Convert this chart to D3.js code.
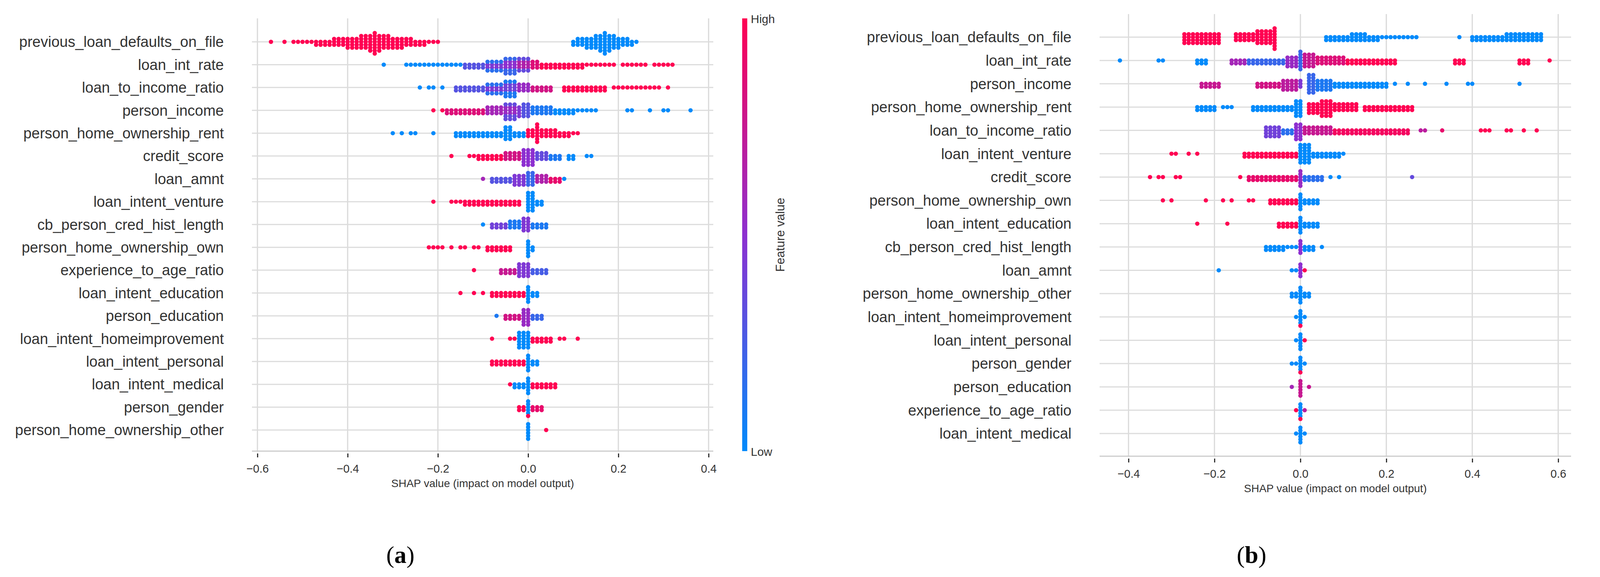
<!DOCTYPE html>
<html><head><meta charset="utf-8">
<script src="https://cdn.jsdelivr.net/npm/d3@7"></script>
<style>body{margin:0;background:#fff}svg{display:block}</style>
</head><body>
<svg id="c" width="4236" height="1476"></svg>
<script>
// Each run: [x from, x to, feature value (0 low .. 1 high), dots per 0.01 step]
const featuresA = ["previous_loan_defaults_on_file","loan_int_rate","loan_to_income_ratio","person_income","person_home_ownership_rent","credit_score","loan_amnt","loan_intent_venture","cb_person_cred_hist_length","person_home_ownership_own","experience_to_age_ratio","loan_intent_education","person_education","loan_intent_homeimprovement","loan_intent_personal","loan_intent_medical","person_gender","person_home_ownership_other"];
const runsA = [
 [[-0.57,-0.57,1,1],[-0.54,-0.54,1,1],[-0.52,-0.48,1,1],[-0.47,-0.44,1,2],[-0.43,-0.41,1,3],[-0.40,-0.38,1,4],[-0.37,-0.36,1,5],[-0.35,-0.35,1,6],[-0.34,-0.34,1,8],[-0.33,-0.33,1,6],[-0.32,-0.31,1,5],[-0.30,-0.28,1,4],[-0.27,-0.26,1,3],[-0.25,-0.23,1,2],[-0.22,-0.20,1,1],
  [0.10,0.10,0,2],[0.11,0.12,0,3],[0.13,0.14,0,4],[0.15,0.15,0,5],[0.16,0.16,0,6],[0.17,0.17,0,8],[0.18,0.18,0,6],[0.19,0.19,0,5],[0.20,0.20,0,4],[0.21,0.22,0,3],[0.23,0.23,0,2],[0.24,0.24,0,1]],
 [[-0.32,-0.32,0,1],[-0.27,-0.15,0,1],[-0.14,-0.10,0.3,2],[-0.09,-0.06,0.45,2],[-0.09,-0.06,0.15,2],[-0.05,-0.03,0.5,3],[-0.05,-0.03,0.2,3],[-0.02,0.0,0.65,3],[-0.02,0.0,0.35,2],[0.01,0.02,0.85,3],[0.03,0.12,1,2],[0.13,0.19,1,1],[0.21,0.26,1,1],[0.28,0.32,1,1]],
 [[-0.24,-0.24,0,1],[-0.22,-0.21,0,1],[-0.19,-0.19,0,1],[-0.16,-0.10,0.3,2],[-0.09,-0.06,0.45,2],[-0.09,-0.06,0.15,2],[-0.05,-0.03,0.4,3],[-0.05,-0.03,0.1,3],[-0.02,0.0,0.55,3],[0.01,0.05,0.8,2],[0.08,0.17,1,2],[0.19,0.29,1,1],[0.31,0.31,1,1]],
 [[-0.21,-0.21,1,1],[-0.19,-0.19,1,1],[-0.18,-0.10,0.85,2],[-0.09,-0.06,0.6,3],[-0.05,-0.03,0.55,3],[-0.05,-0.03,0.35,3],[-0.02,-0.02,0.45,4],[-0.01,0.0,0.3,5],[0.01,0.05,0.1,3],[0.06,0.10,0,2],[0.11,0.15,0,1],[0.22,0.23,0,1],[0.27,0.27,0,1],[0.30,0.31,0,1],[0.36,0.36,0,1]],
 [[-0.30,-0.30,0,1],[-0.28,-0.28,0,1],[-0.26,-0.25,0,1],[-0.21,-0.21,0,1],[-0.16,-0.06,0,2],[-0.05,-0.04,0,5],[-0.03,-0.01,0,2],[0.0,0.01,1,3],[0.02,0.02,1,7],[0.03,0.06,1,3],[0.07,0.09,1,2],[0.10,0.11,1,1]],
 [[-0.17,-0.17,1,1],[-0.13,-0.12,1,1],[-0.11,-0.06,1,2],[-0.05,-0.02,0.8,3],[-0.01,0.01,0.5,6],[0.02,0.04,0.35,3],[0.05,0.07,0.1,2],[0.09,0.10,0,2],[0.13,0.14,0,1]],
 [[-0.10,-0.10,0.6,1],[-0.08,-0.04,0.3,2],[-0.03,-0.01,0.45,4],[0.0,0.01,0.2,5],[0.02,0.04,0.65,3],[0.05,0.07,0.9,2],[0.08,0.08,0,1]],
 [[-0.21,-0.21,1,1],[-0.17,-0.15,1,1],[-0.14,-0.02,1,2],[0.0,0.01,0,7],[0.02,0.03,0,2]],
 [[-0.10,-0.10,0,1],[-0.08,-0.05,0.4,2],[-0.04,-0.02,0.1,3],[-0.01,0.0,0.45,5],[0.01,0.04,0.1,2]],
 [[-0.22,-0.21,1,1],[-0.20,-0.19,1,1],[-0.17,-0.17,1,1],[-0.15,-0.14,1,1],[-0.12,-0.11,1,1],[-0.09,-0.04,1,2],[0.0,0.0,0,6],[0.01,0.01,0,2]],
 [[-0.12,-0.12,1,1],[-0.06,-0.03,0.75,2],[-0.02,0.0,0.45,5],[0.01,0.04,0.25,2]],
 [[-0.15,-0.15,1,1],[-0.12,-0.12,1,1],[-0.10,-0.10,1,1],[-0.08,-0.01,1,2],[0.0,0.0,0,6],[0.01,0.02,0,2]],
 [[-0.07,-0.07,0.1,1],[-0.05,-0.02,0.8,2],[-0.01,0.0,0.55,6],[0.01,0.03,0.2,2]],
 [[-0.08,-0.08,1,1],[-0.04,-0.03,1,1],[-0.02,0.0,0,6],[0.01,0.05,1,2],[0.07,0.08,1,1],[0.11,0.11,1,1]],
 [[-0.08,-0.01,1,2],[0.0,0.0,0,6],[0.01,0.02,0,2]],
 [[-0.04,-0.04,1,1],[-0.03,-0.01,0,2],[0.0,0.0,0,6],[0.01,0.06,1,2]],
 [[-0.02,-0.01,1,2],[0.0,0.0,0,5],[0.0,0.0,1,1],[0.01,0.03,0.9,2]],
 [[0.0,0.0,0,6],[0.04,0.04,1,1]]
];
const ticksA = [-0.6,-0.4,-0.2,0.0,0.2,0.4];

const featuresB = ["previous_loan_defaults_on_file","loan_int_rate","person_income","person_home_ownership_rent","loan_to_income_ratio","loan_intent_venture","credit_score","person_home_ownership_own","loan_intent_education","cb_person_cred_hist_length","loan_amnt","person_home_ownership_other","loan_intent_homeimprovement","loan_intent_personal","person_gender","person_education","experience_to_age_ratio","loan_intent_medical"];
const runsB = [
 [[-0.27,-0.19,1,4],[-0.15,-0.11,1,3],[-0.10,-0.07,1,5],[-0.06,-0.06,1,8],
  [0.06,0.11,0,2],[0.12,0.15,0,3],[0.16,0.18,0,2],[0.19,0.27,0,1],[0.37,0.37,0,1],[0.40,0.47,0,2],[0.48,0.56,0,3]],
 [[-0.42,-0.42,0,1],[-0.33,-0.32,0,1],[-0.24,-0.22,0,2],[-0.16,-0.13,0.6,2],[-0.12,-0.04,0.2,2],[-0.03,-0.01,0.55,4],[0.0,0.0,0.2,7],[0.01,0.03,0.75,5],[0.04,0.10,0.85,3],[0.11,0.22,1,2],[0.36,0.38,1,2],[0.51,0.53,1,2],[0.58,0.58,1,1]],
 [[-0.23,-0.19,0.75,2],[-0.10,-0.05,0.8,2],[-0.04,-0.01,0.7,4],[0.0,0.0,0.45,3],[0.02,0.03,0.2,7],[0.04,0.07,0.1,4],[0.08,0.20,0,2],[0.22,0.22,0,1],[0.25,0.25,0,1],[0.29,0.29,0,1],[0.34,0.34,0,1],[0.39,0.40,0,1],[0.51,0.51,0,1]],
 [[-0.24,-0.20,0,2],[-0.18,-0.16,0,1],[-0.11,-0.02,0,2],[-0.01,0.0,0,6],[0.02,0.04,1,4],[0.05,0.07,1,6],[0.08,0.13,1,3],[0.15,0.26,1,2]],
 [[-0.08,-0.05,0.4,4],[-0.04,-0.02,0.15,2],[-0.01,0.0,0.5,6],[0.01,0.07,0.75,3],[0.08,0.25,0.95,2],[0.28,0.29,0.7,1],[0.33,0.33,0.9,1],[0.42,0.44,1,1],[0.48,0.49,1,1],[0.52,0.52,1,1],[0.55,0.55,1,1]],
 [[-0.30,-0.29,1,1],[-0.26,-0.26,1,1],[-0.24,-0.24,1,1],[-0.13,-0.01,1,2],[0.0,0.02,0,7],[0.03,0.09,0,2],[0.10,0.10,0,1]],
 [[-0.35,-0.35,1,1],[-0.33,-0.32,1,1],[-0.29,-0.28,1,1],[-0.14,-0.14,1,1],[-0.12,-0.01,0.9,2],[0.0,0.0,0.55,6],[0.01,0.05,0.15,2],[0.07,0.07,0,1],[0.09,0.09,0,1],[0.26,0.26,0.35,1]],
 [[-0.32,-0.32,1,1],[-0.30,-0.30,1,1],[-0.22,-0.22,1,1],[-0.18,-0.18,1,1],[-0.16,-0.16,1,1],[-0.12,-0.11,1,1],[-0.07,-0.01,1,2],[0.0,0.0,0,6],[0.01,0.04,0,2]],
 [[-0.24,-0.24,1,1],[-0.17,-0.17,1,1],[-0.05,-0.01,1,2],[0.0,0.0,0,6],[0.01,0.04,0,2]],
 [[-0.08,-0.04,0,2],[-0.03,-0.01,0,1],[0.0,0.0,0.5,5],[0.01,0.03,0,2],[0.05,0.05,0,1]],
 [[-0.19,-0.19,0,1],[-0.02,-0.01,0,1],[0.0,0.0,0.5,5],[0.01,0.01,1,1]],
 [[-0.02,-0.01,0,2],[0.0,0.0,0,6],[0.01,0.02,0,2]],
 [[-0.01,-0.01,0,1],[0.0,0.0,0,5],[0.0,0.0,1,1],[0.01,0.01,0,1]],
 [[-0.01,-0.01,0,1],[0.0,0.0,0,6],[0.01,0.01,1,1]],
 [[-0.02,-0.01,0,1],[0.0,0.0,0,5],[0.0,0.0,1,1],[0.01,0.01,0,1]],
 [[-0.02,-0.02,0.6,1],[0.0,0.0,0.75,6],[0.02,0.02,0.75,1]],
 [[-0.01,-0.01,1,1],[0.0,0.0,0,5],[0.0,0.0,1,1],[0.01,0.01,0.7,1]],
 [[-0.01,-0.01,0,1],[0.0,0.0,0,6],[0.01,0.01,0,1]]
];
const ticksB = [-0.4,-0.2,0.0,0.2,0.4,0.6];

const svg = d3.select("#c");
const col = d3.scaleLinear().domain([0,0.5,1]).range(["#008afb","#8d2fd0","#ff0052"]).interpolate(d3.interpolateRgb);
const defs = svg.append("defs");
const grad = defs.append("linearGradient").attr("id","cb").attr("x1",0).attr("y1",1).attr("x2",0).attr("y2",0);
d3.range(0,1.0001,0.1).forEach(t=>grad.append("stop").attr("offset",t).attr("stop-color",col(t)));
const FONT = "Liberation Sans, Arial, sans-serif";

function panel(cfg){
  const g = svg.append("g");
  const x = d3.scaleLinear().domain(cfg.dom).range(cfg.xr);
  const y = d3.scaleLinear().domain([0,cfg.features.length-1]).range(cfg.yr);
  g.selectAll(".vg").data(cfg.ticks).join("line")
    .attr("x1",d=>x(d)).attr("x2",d=>x(d)).attr("y1",cfg.top).attr("y2",cfg.axisY)
    .attr("stroke","#d9d9d9").attr("stroke-width",3);
  g.selectAll(".hg").data(cfg.features).join("line")
    .attr("x1",cfg.left).attr("x2",cfg.right).attr("y1",(d,i)=>y(i)).attr("y2",(d,i)=>y(i))
    .attr("stroke","#dcdcdc").attr("stroke-width",3);
  const ax = g.append("g").attr("transform",`translate(0,${cfg.axisY})`)
    .call(d3.axisBottom(x).tickValues(cfg.ticks).tickFormat(d3.format(".1f")).tickSize(14).tickSizeOuter(0));
  ax.select(".domain").attr("stroke","#cccccc").attr("stroke-width",3).attr("d",`M${cfg.left},0H${cfg.right}`);
  ax.selectAll(".tick line").attr("stroke","#333").attr("stroke-width",3).attr("y1",6).attr("y2",16);
  ax.selectAll(".tick text").attr("font-family",FONT).attr("font-size",29).attr("fill","#333").attr("dy","1.3em")
    .text(d=>d3.format(".1f")(d).replace("-","\u2212"));
  g.append("text").attr("x",(cfg.left+cfg.right)/2).attr("y",cfg.axisY+92).attr("text-anchor","middle")
    .attr("font-family",FONT).attr("font-size",28).attr("fill","#333").text("SHAP value (impact on model output)");
  g.selectAll(".lab").data(cfg.features).join("text")
    .attr("x",cfg.labelX).attr("y",(d,i)=>y(i)).attr("dy","0.35em").attr("text-anchor","end")
    .attr("font-family",FONT).attr("font-size",38).attr("fill","#333").text(d=>d);
  const r=5.5, step=7.5;
  cfg.runs.forEach((runs,i)=>{
    const bins=new Map();
    runs.forEach(([a,b,c,n])=>{
      const k0=Math.round(a*100), k1=Math.round(b*100);
      for(let k=k0;k<=k1;k++){ if(!bins.has(k)) bins.set(k,[]); for(let j=0;j<n;j++) bins.get(k).push(c); }
    });
    const pts=[];
    bins.forEach((arr,k)=>{
      arr.forEach((c,j)=>{ const o = j===0?0:(j%2? Math.ceil(j/2): -Math.ceil(j/2)); pts.push({x:k/100,c,o}); });
    });
    g.append("g").selectAll("circle").data(pts).join("circle")
      .attr("cx",d=>x(d.x)).attr("cy",d=>y(i)+d.o*step).attr("r",r).attr("fill",d=>col(d.c));
  });
  g.append("rect").attr("x",cfg.cbX).attr("y",cfg.top).attr("width",13).attr("height",cfg.axisY-cfg.top).attr("fill","url(#cb)");
  g.append("text").attr("x",cfg.cbX+22).attr("y",cfg.top+12).attr("font-family",FONT).attr("font-size",30).attr("fill","#333").text("High");
  g.append("text").attr("x",cfg.cbX+22).attr("y",cfg.axisY+12).attr("font-family",FONT).attr("font-size",30).attr("fill","#333").text("Low");
  g.append("text").attr("transform",`translate(${cfg.cbX+108},${(cfg.top+cfg.axisY)/2}) rotate(-90)`).attr("text-anchor","middle")
    .attr("font-family",FONT).attr("font-size",31).attr("fill","#333").text("Feature value");
  const cap=g.append("text").attr("x",cfg.capX).attr("y",1440).attr("text-anchor","middle")
    .attr("font-family","Liberation Serif, Times New Roman, serif").attr("font-size",62).attr("fill","#000");
  cap.append("tspan").text("(");
  cap.append("tspan").attr("font-weight","bold").text(cfg.cap);
  cap.append("tspan").text(")");
}

panel({features:featuresA,runs:runsA,ticks:ticksA,dom:[-0.6,0.4],xr:[659,1814],yr:[107,1100],
  top:47,axisY:1154,left:645,right:1826,labelX:573,cbX:1900,capX:1025,cap:"a"});
panel({features:featuresB,runs:runsB,ticks:ticksB,dom:[-0.4,0.6],xr:[2889,3989],yr:[95,1109],
  top:36,axisY:1167,left:2815,right:4022,labelX:2743,cbX:4103,capX:3204,cap:"b"});
</script>
</body></html>
